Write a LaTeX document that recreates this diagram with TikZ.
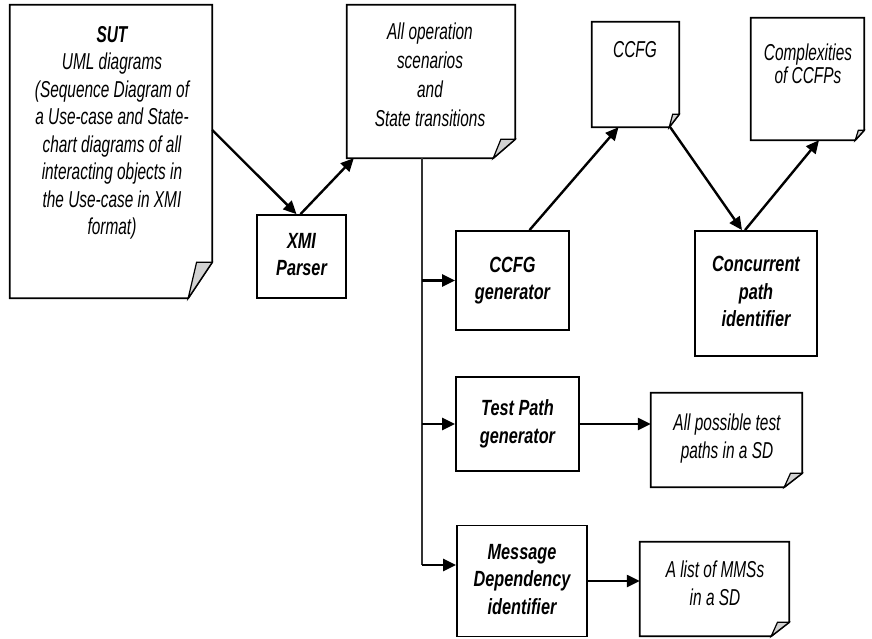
\documentclass[tikz,border=0pt]{standalone}
\usepackage{fontspec}
\usepackage{graphicx}
\setmainfont{Liberation Sans}
\usetikzlibrary{arrows.meta}

% condensed, centred lines of text
\newcommand{\narrow}[2][0.67]{\scalebox{#1}[1]{\begin{tabular}{@{}c@{}}#2\end{tabular}}}

\tikzset{
  box/.style={draw, line width=1.8pt, inner sep=0pt},
  note/.style={inner sep=0pt},
  txt/.style={inner sep=0pt, font=\fontsize{23}{27.5}\selectfont\itshape},
  step txt/.style={font=\fontsize{22}{27.5}\selectfont\bfseries\itshape},
  flow/.style={line width=2.4pt, -{Triangle[length=13pt,width=12pt]}},
}

% outline of a note with its bottom right corner folded over
\newcommand{\foldnote}[3]{%
  \draw[line width=1.8pt, fill=white] (#1.north west) -- (#1.north east)
    -- ([yshift=#3]#1.south east) -- ([xshift=-#2]#1.south east)
    -- (#1.south west) -- cycle;
  \filldraw[line width=1.2pt, fill=gray!35] ([yshift=#3]#1.south east)
    -- ([xshift=-0.65*#2, yshift=#3]#1.south east)
    -- ([xshift=-#2]#1.south east) -- cycle;
}

\begin{document}
\begin{tikzpicture}[x=1pt, y=-1pt]
  \useasboundingbox (0,0) rectangle (872,638);

  % notes
  \node[note, minimum width=202pt, minimum height=293pt] (sut) at (111,151.5) {};
  \node[note, minimum width=168pt, minimum height=153pt] (ops) at (431,81.5) {};
  \node[note, minimum width=87pt, minimum height=105pt] (ccfg) at (635.5,74.5) {};
  \node[note, minimum width=113pt, minimum height=122pt] (cplx) at (807.5,79) {};
  \node[note, minimum width=151pt, minimum height=94pt] (atp) at (726.5,440) {};
  \node[note, minimum width=149pt, minimum height=94pt] (mms) at (714.5,589) {};
  \foldnote{sut}{24pt}{36pt}
  \foldnote{ops}{22pt}{19pt}
  \foldnote{ccfg}{10pt}{13pt}
  \foldnote{cplx}{9pt}{10pt}
  \foldnote{atp}{18pt}{14pt}
  \foldnote{mms}{18pt}{14pt}

  \node[txt] (sut-t) at (112,133) {\narrow{\textbf{SUT}\\UML diagrams\\(Sequence Diagram of\\a Use-case and State-\\chart diagrams of all\\interacting objects in\\the Use-case in XMI\\format)}};
  \node[txt, font=\fontsize{23}{29}\selectfont\itshape] (ops-t) at (430,77) {\narrow{All operation\\scenarios\\and\\State transitions}};
  \node[txt] (ccfg-t) at (635,52) {\narrow{CCFG}};
  \node[txt, font=\fontsize{23}{22}\selectfont\itshape] (cplx-t) at (808,67) {\narrow{Complexities\\of CCFPs}};
  \node[txt] (atp-t) at (727,439) {\narrow{All possible test\\paths in a SD}};
  \node[txt] (mms-t) at (715,586) {\narrow{A list of MMSs\\in a SD}};

  % processing steps
  \node[box, txt, step txt, minimum width=89pt, minimum height=83pt] (xmi) at (301.5,256.5) {\narrow[0.74]{XMI\\Parser}};
  \node[box, txt, step txt, minimum width=113pt, minimum height=99pt] (ccfggen) at (512.5,280.5) {\narrow[0.74]{CCFG\\generator}};
  \node[box, txt, step txt, minimum width=122pt, minimum height=125pt] (cpi) at (756,293.5) {\narrow[0.74]{Concurrent\\path\\identifier}};
  \node[box, txt, step txt, minimum width=123pt, minimum height=94pt] (tpg) at (517.5,424) {\narrow[0.74]{Test Path\\generator}};
  \node[box, txt, step txt, minimum width=130pt, minimum height=111pt] (mdi) at (522,581) {\narrow[0.74]{Message\\Dependency\\identifier}};

  % connectors
  \draw[flow] ([yshift=21.5pt]sut.east) -- ([xshift=-5pt]xmi.north);
  \draw[flow] ([xshift=-1pt]xmi.north) -- ([xshift=7pt]ops.south west);
  \draw[flow] ([xshift=17pt]ccfggen.north) -- ([xshift=-17pt]ccfg.south);
  \draw[flow] ([xshift=-9pt]ccfg.south east) -- ([xshift=-14pt]cpi.north);
  \draw[flow] ([xshift=-11pt]cpi.north) -- ([xshift=11.5pt]cplx.south);

  \coordinate (tb) at (422,565);
  \draw[line width=1.5pt, black!80] (ops.south -| tb) -- (tb);
  \draw[flow] (ccfggen.west -| tb) -- (ccfggen.west);
  \draw[flow] (tpg.west -| tb) -- (tpg.west);
  \draw[flow] (tb) -- (tb -| mdi.west);
  \draw[flow] (tpg.east) -- (tpg.east -| atp.west);
  \draw[flow] (mdi.east) -- (mdi.east -| mms.west);
\end{tikzpicture}
\end{document}
